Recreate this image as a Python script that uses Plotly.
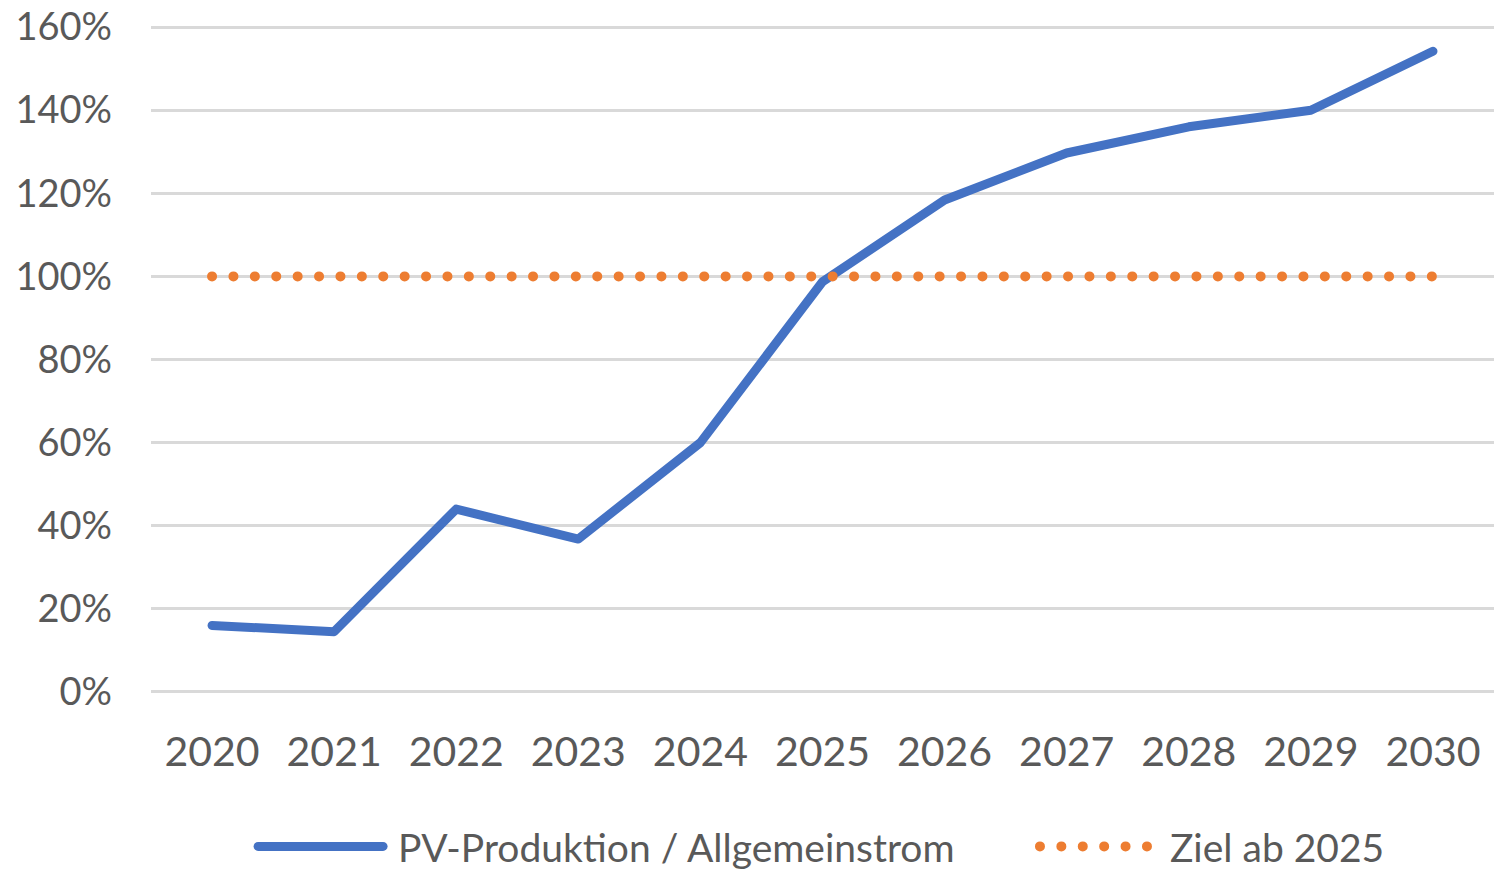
import plotly.graph_objects as go

years = ["2020", "2021", "2022", "2023", "2024", "2025", "2026", "2027", "2028", "2029", "2030"]
pv_ratio = [16, 14.5, 44, 36.8, 60, 98.7, 118.4, 129.7, 136, 140, 154.2]
target = [100, 100, 100, 100, 100, 100, 100, 100, 100, 100, 100]
y_ticks = [0, 20, 40, 60, 80, 100, 120, 140, 160]
y_labels = ["0%", "20%", "40%", "60%", "80%", "100%", "120%", "140%", "160%"]

FONT = "Lato, 'Open Sans', sans-serif"
TXT = "#595959"
GRID = "#D9D9D9"

fig = go.Figure()
fig.add_trace(go.Scatter(
    x=years, y=pv_ratio, mode="lines", name="\u00a0PV-Produktion / Allgemeinstrom",
    line=dict(color="#4472C4", width=9, shape="linear"), legend="legend",
))
fig.add_trace(go.Scatter(
    x=years, y=target, mode="lines", name="Ziel ab 2025",
    line=dict(color="#ED7D31", width=10, dash="0px,21.4px"), legend="legend2",
))

legend_common = dict(orientation="h", xanchor="left", y=-0.228, yanchor="middle",
                     font=dict(size=39, color=TXT, family=FONT), itemwidth=125,
                     bgcolor="rgba(0,0,0,0)")

fig.update_layout(
    width=1494, height=869,
    margin=dict(l=151, r=0, t=25, b=175, autoexpand=False),
    paper_bgcolor="white", plot_bgcolor="white",
    font=dict(family=FONT, color=TXT),
    showlegend=True,
    legend=dict(x=0.076, **legend_common),
    legend2=dict(x=0.6582, **legend_common),
    xaxis=dict(type="category", range=[-0.5, 10.5], showgrid=False, zeroline=False,
               showline=False, ticks="", tickfont=dict(size=41, color=TXT, family=FONT),
               ticklabelstandoff=30, automargin=False),
    yaxis=dict(range=[-0.5, 160.5], tickmode="array", tickvals=y_ticks, ticktext=y_labels,
               showgrid=True, gridcolor=GRID, gridwidth=2.5,
               zeroline=True, zerolinecolor=GRID, zerolinewidth=2.5, showline=False,
               ticks="", tickfont=dict(size=38, color=TXT, family=FONT),
               ticklabelstandoff=38, automargin=False),
)

post = """
var s = document.createElement('style');
s.innerHTML = 'html, body { margin: 0 !important; padding: 0 !important; overflow: hidden; } .js-line { stroke-linecap: round !important; stroke-linejoin: round !important; }';
document.head.appendChild(s);
"""
fig.write_html("out.html", post_script=post, config={"displayModeBar": False})
